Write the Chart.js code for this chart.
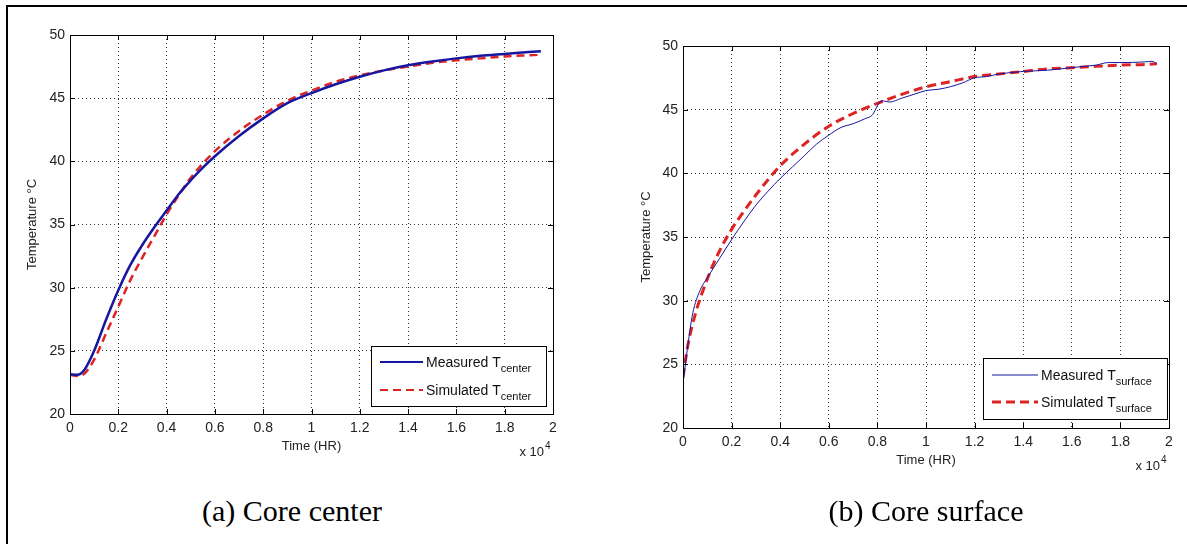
<!DOCTYPE html>
<html>
<head>
<meta charset="utf-8">
<script src="https://cdn.jsdelivr.net/npm/chart.js@4.4.1/dist/chart.umd.min.js"></script>
<style>
  body { margin: 0; background: #fff; width: 1187px; height: 544px; overflow: hidden; position: relative; }
  .frame { position: absolute; left: 6px; top: 5px; width: 1181px; height: 539px; border-left: 2px solid #000; border-top: 2px solid #000; }
  canvas { position: absolute; top: 0; }
  .cap { position: absolute; top: 494px; font-family: "Liberation Serif", "Times New Roman", serif; font-size: 30px; color: #000; transform: translateX(-50%); white-space: nowrap; }
</style>
</head>
<body>
<div class="frame"></div>
<canvas id="chartCenter" width="600" height="480" style="left:0"></canvas>
<canvas id="chartSurface" width="587" height="500" style="left:600px"></canvas>
<div class="cap" style="left:292px">(a) Core center</div>
<div class="cap" style="left:926px">(b) Core surface</div>

<script>
// time axis is in units of 10^4 hours, as on the plot
const xTickValues = [0, 0.2, 0.4, 0.6, 0.8, 1, 1.2, 1.4, 1.6, 1.8, 2];
const xTickLabels = ['0', '0.2', '0.4', '0.6', '0.8', '1', '1.2', '1.4', '1.6', '1.8', '2'];
const yTickValues = [20, 25, 30, 35, 40, 45, 50];
const yTickLabels = ['20', '25', '30', '35', '40', '45', '50'];

// (a) core center
const centerMeasTime = [0, 0.03, 0.06, 0.1, 0.15, 0.2, 0.25, 0.3, 0.35, 0.4, 0.45, 0.5, 0.55, 0.6, 0.7, 0.8, 0.9, 1.0, 1.1, 1.2, 1.3, 1.4, 1.5, 1.6, 1.7, 1.8, 1.9, 1.95];
const centerMeasTemp = [23.15, 23.1, 23.5, 25.0, 27.5, 29.8, 31.8, 33.4, 34.8, 36.1, 37.4, 38.5, 39.5, 40.4, 42.0, 43.4, 44.6, 45.4, 46.1, 46.7, 47.2, 47.6, 47.9, 48.15, 48.35, 48.5, 48.65, 48.72];
const centerSimTime = [0, 0.03, 0.06, 0.1, 0.15, 0.2, 0.25, 0.3, 0.35, 0.4, 0.45, 0.5, 0.6, 0.7, 0.8, 0.9, 1.0, 1.1, 1.2, 1.3, 1.4, 1.5, 1.6, 1.7, 1.8, 1.9, 1.95];
const centerSimTemp = [23.1, 23.0, 23.2, 24.3, 26.4, 28.5, 30.6, 32.4, 34.1, 35.8, 37.3, 38.7, 40.8, 42.4, 43.7, 44.8, 45.6, 46.3, 46.8, 47.2, 47.5, 47.8, 48.0, 48.15, 48.3, 48.4, 48.45];

// (b) core surface
const surfMeasTime = [0, 0.01, 0.02, 0.04, 0.07, 0.1, 0.15, 0.2, 0.25, 0.3, 0.35, 0.4, 0.45, 0.5, 0.55, 0.6, 0.65, 0.7, 0.75, 0.78, 0.8, 0.82, 0.85, 0.9, 0.95, 1.0, 1.05, 1.1, 1.15, 1.2, 1.25, 1.3, 1.4, 1.5, 1.6, 1.65, 1.7, 1.75, 1.8, 1.9, 1.93, 1.95];
const surfMeasTemp = [23.5, 25.0, 26.5, 29.0, 30.8, 31.8, 33.3, 34.8, 36.2, 37.5, 38.6, 39.6, 40.5, 41.4, 42.3, 43.0, 43.6, 43.9, 44.3, 44.6, 45.3, 45.7, 45.6, 45.9, 46.2, 46.5, 46.6, 46.8, 47.1, 47.5, 47.6, 47.8, 48.0, 48.1, 48.3, 48.4, 48.5, 48.7, 48.7, 48.75, 48.8, 48.6];
const surfSimTime = [0, 0.02, 0.05, 0.1, 0.15, 0.2, 0.25, 0.3, 0.35, 0.4, 0.5, 0.6, 0.7, 0.8, 0.9, 1.0, 1.1, 1.2, 1.3, 1.4, 1.5, 1.6, 1.7, 1.8, 1.9, 1.95];
const surfSimTemp = [24.0, 26.5, 28.9, 31.7, 33.9, 35.6, 37.0, 38.3, 39.5, 40.6, 42.3, 43.7, 44.7, 45.5, 46.2, 46.8, 47.2, 47.6, 47.8, 48.0, 48.2, 48.3, 48.4, 48.5, 48.55, 48.6];

const BLUE = '#1616a0';
const RED  = '#de2323';
const FONT = '"Liberation Sans", Arial, sans-serif';

function pts(xs, ys) {
    return xs.map((x, i) => ({ x: x, y: ys[i] }));
}

// matlab style box, inward ticks, legend with subscripts, "x 10^4"
function axesDecor(legendRows, legendBox) {
    return {
        id: 'axesDecor',
        afterDraw(chart) {
            const ctx = chart.ctx;
            const a = chart.chartArea;
            const sx = chart.scales.x, sy = chart.scales.y;
            ctx.save();
            ctx.setLineDash([]);
            ctx.strokeStyle = '#000';
            ctx.lineWidth = 1;
            ctx.strokeRect(a.left + 0.5, a.top + 0.5, a.right - a.left, a.bottom - a.top);

            ctx.beginPath();
            xTickValues.forEach(v => {
                const p = Math.round(sx.getPixelForValue(v)) + 0.5;
                ctx.moveTo(p, a.bottom); ctx.lineTo(p, a.bottom - 5);
                ctx.moveTo(p, a.top); ctx.lineTo(p, a.top + 5);
            });
            yTickValues.forEach(v => {
                const p = Math.round(sy.getPixelForValue(v)) + 0.5;
                ctx.moveTo(a.left, p); ctx.lineTo(a.left + 5, p);
                ctx.moveTo(a.right, p); ctx.lineTo(a.right - 5, p);
            });
            ctx.stroke();

            // exponent
            ctx.fillStyle = '#222';
            ctx.font = '13px ' + FONT;
            ctx.textAlign = 'right';
            ctx.textBaseline = 'alphabetic';
            ctx.fillText('x 10', a.right - 9, a.bottom + 42);
            ctx.font = '10px ' + FONT;
            ctx.textAlign = 'left';
            ctx.fillText('4', a.right - 8, a.bottom + 35);

            // legend
            const L = legendBox;
            const bx = a.right - L.right - L.w, by = a.bottom - L.bottom - L.h;
            ctx.fillStyle = '#fff';
            ctx.fillRect(bx, by, L.w, L.h);
            ctx.strokeStyle = '#000';
            ctx.strokeRect(bx + 0.5, by + 0.5, L.w, L.h);
            legendRows.forEach((r, i) => {
                const ly = by + L.row0 + i * L.rowGap;
                ctx.beginPath();
                ctx.strokeStyle = r.color;
                ctx.lineWidth = r.width;
                ctx.setLineDash(r.dash);
                ctx.moveTo(bx + 9, ly);
                ctx.lineTo(bx + 9 + L.lineLen, ly);
                ctx.stroke();
                ctx.setLineDash([]);
                ctx.fillStyle = '#111';
                ctx.font = '14px ' + FONT;
                ctx.textAlign = 'left';
                const tx = bx + 12 + L.lineLen;
                ctx.fillText(r.label, tx, ly + 5);
                const w = ctx.measureText(r.label).width;
                ctx.font = '11px ' + FONT;
                ctx.fillText(r.sub, tx + w, ly + 10);
            });
            ctx.restore();
        }
    };
}

function makeChart(id, datasets, geom, legendRows, legendBox) {
    return new Chart(document.getElementById(id), {
        type: 'line',
        data: { datasets: datasets },
        options: {
            responsive: false,
            animation: false,
            layout: { padding: geom.padding },
            plugins: { legend: { display: false }, tooltip: { enabled: false } },
            elements: { point: { radius: 0 } },
            scales: {
                x: {
                    type: 'linear', min: 0, max: 2,
                    afterBuildTicks: s => { s.ticks = xTickValues.map(v => ({ value: v })); },
                    afterFit: s => { s.height = 50; },
                    ticks: {
                        autoSkip: false, maxRotation: 0, padding: 6,
                        color: '#222', font: { family: FONT, size: 14 },
                        callback: (v, i) => xTickLabels[i]
                    },
                    grid: { color: '#333', lineWidth: 1, drawTicks: false },
                    border: { display: false, dash: [1, 3] },
                    title: { display: true, text: 'Time (HR)', color: '#222', font: { family: FONT, size: 13 }, padding: { top: 0, bottom: 10 } }
                },
                y: {
                    type: 'linear', min: 20, max: 50,
                    afterBuildTicks: s => { s.ticks = yTickValues.map(v => ({ value: v })); },
                    afterFit: s => { s.width = geom.yWidth; },
                    ticks: {
                        autoSkip: false, padding: 5,
                        color: '#222', font: { family: FONT, size: 14 },
                        callback: (v, i) => yTickLabels[i]
                    },
                    grid: { color: '#333', lineWidth: 1, drawTicks: false },
                    border: { display: false, dash: [1, 3] },
                    title: { display: true, text: 'Temperature °C', color: '#222', font: { family: FONT, size: 13 }, padding: { top: geom.yTitlePad, bottom: 0 } }
                }
            }
        },
        plugins: [axesDecor(legendRows, legendBox)]
    });
}

makeChart('chartCenter', [
    { label: 'Measured T center', data: pts(centerMeasTime, centerMeasTemp), borderColor: BLUE, borderWidth: 2.5, cubicInterpolationMode: 'monotone' },
    { label: 'Simulated T center', data: pts(centerSimTime, centerSimTemp), borderColor: RED, borderWidth: 2.5, borderDash: [8, 5], cubicInterpolationMode: 'monotone' }
], { padding: { left: 0, top: 35, right: 47, bottom: 16 }, yWidth: 70, yTitlePad: 25 },
[
    { label: 'Measured T', sub: 'center', color: BLUE, width: 2, dash: [] },
    { label: 'Simulated T', sub: 'center', color: RED, width: 2, dash: [8, 5] }
], { w: 175, h: 60, right: 7, bottom: 8, row0: 16, rowGap: 28, lineLen: 43 });

makeChart('chartSurface', [
    { label: 'Measured T surface', data: pts(surfMeasTime, surfMeasTemp), borderColor: BLUE, borderWidth: 1, cubicInterpolationMode: 'monotone' },
    { label: 'Simulated T surface', data: pts(surfSimTime, surfSimTemp), borderColor: RED, borderWidth: 3, borderDash: [9, 5], cubicInterpolationMode: 'monotone' }
], { padding: { left: 0, top: 46, right: 18, bottom: 22 }, yWidth: 83, yTitlePad: 39 },
[
    { label: 'Measured T', sub: 'surface', color: BLUE, width: 1, dash: [] },
    { label: 'Simulated T', sub: 'surface', color: RED, width: 3, dash: [9, 5] }
], { w: 184, h: 61, right: 2, bottom: 9, row0: 17, rowGap: 27, lineLen: 46 });
</script>
</body>
</html>
